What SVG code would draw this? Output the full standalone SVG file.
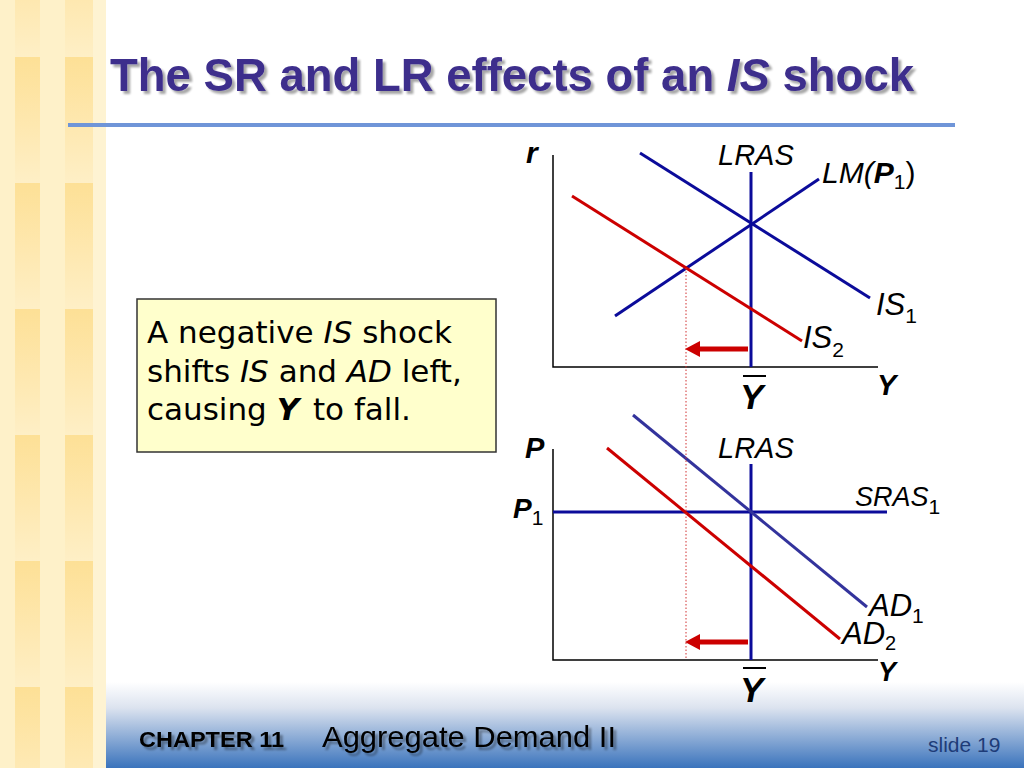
<svg xmlns="http://www.w3.org/2000/svg" width="1024" height="768" viewBox="0 0 1024 768">
  <defs>
    <linearGradient id="footGrad" x1="0" y1="0" x2="0" y2="1">
      <stop offset="0" stop-color="#FFFFFF"/>
      <stop offset="0.3" stop-color="#DCE3EF"/>
      <stop offset="1" stop-color="#3A73BC"/>
    </linearGradient>
    <linearGradient id="stripeGrad" x1="0" y1="0" x2="0" y2="1">
      <stop offset="0" stop-color="#FDE096"/>
      <stop offset="0.55" stop-color="#FEE8B0"/>
      <stop offset="1" stop-color="#FEEFC6"/>
    </linearGradient>
    <pattern id="sidePat" patternUnits="userSpaceOnUse" x="0" y="57" width="106" height="126">
      <rect x="0" y="0" width="106" height="126" fill="#FEF1C9"/>
      <rect x="15" y="0" width="25" height="126" fill="url(#stripeGrad)"/>
      <rect x="65" y="0" width="28" height="126" fill="url(#stripeGrad)"/>
      <rect x="93" y="0" width="13" height="126" fill="#FEF3D2"/>
    </pattern>
    <marker id="redHead" markerUnits="userSpaceOnUse" viewBox="0 -8 15 16" refX="0" refY="0" markerWidth="15" markerHeight="16" orient="auto">
      <path d="M0,-8 L15,0 L0,8 Z" fill="#CC0000"/>
    </marker>
    <filter id="shadow" x="-5%" y="-20%" width="110%" height="140%">
      <feGaussianBlur in="SourceAlpha" stdDeviation="1"/>
      <feOffset dx="3" dy="3" result="o"/>
      <feComponentTransfer><feFuncA type="linear" slope="0.35"/></feComponentTransfer>
      <feMerge><feMergeNode/><feMergeNode in="SourceGraphic"/></feMerge>
    </filter>
  </defs>
  <style>
    .ax { stroke: #000; stroke-width: 1.5; fill: none; }
    .blue { stroke: #0B0B9A; stroke-width: 3; fill: none; }
    .blue2 { stroke: #33339C; stroke-width: 3; fill: none; }
    .red { stroke: #CC0000; stroke-width: 3; fill: none; }
    .arrow { stroke: #CC0000; stroke-width: 5; fill: none; }
    .dot { stroke: #D03030; stroke-width: 1; stroke-dasharray: 1.5 2; fill: none; }
    .lbl { font-family: "Liberation Sans", Arial, sans-serif; font-style: italic; fill: #000; }
    .bi { font-family: "Liberation Sans", Arial, sans-serif; font-style: italic; font-weight: bold; fill: #000; }
    .sub { font-style: normal; font-weight: normal; }
    .box { font-family: "DejaVu Sans", Tahoma, sans-serif; font-size: 31px; fill: #000; }
  </style>

  <!-- background -->
  <rect x="0" y="0" width="1024" height="768" fill="#FFFFFF"/>
  <rect x="106" y="682" width="918" height="86" fill="url(#footGrad)"/>
  <g id="sidebar">
    <rect x="0" y="0" width="106" height="768" fill="url(#sidePat)"/>
  </g>

  <!-- title -->
  <g id="title">
    <text x="110" y="91" font-family="Liberation Sans, Arial, sans-serif" font-size="45.5" font-weight="bold" fill="#3D2E8C" filter="url(#shadow)">The SR and LR effects of an <tspan font-style="italic">IS</tspan> shock</text>
    <rect x="68" y="123" width="887" height="4" fill="#6F95D8"/>
  </g>

  <!-- text box -->
  <g id="note">
    <rect x="137" y="299" width="359" height="153" fill="#FFFFCC" stroke="#333333" stroke-width="1.5"/>
    <text class="box" x="147" y="343">A negative <tspan font-style="italic">IS</tspan> shock</text>
    <text class="box" x="147" y="382">shifts <tspan font-style="italic">IS</tspan> and <tspan font-style="italic">AD</tspan> left,</text>
    <text class="box" x="147" y="420">causing <tspan font-style="italic" font-weight="bold">Y</tspan><tspan dx="4"> to fall.</tspan></text>
  </g>

  <!-- upper graph: IS-LM -->
  <g id="islm-graph">
    <g id="islm-axes">
      <polyline class="ax" points="553,155 553,367 878,367"/>
      <text class="bi" x="526" y="163" font-size="30">r</text>
      <text class="bi" x="877" y="395" font-size="29">Y</text>
      <line x1="743" y1="376" x2="766" y2="376" stroke="#000" stroke-width="2"/>
      <text class="bi" x="740" y="409" font-size="35">Y</text>
    </g>
    <g id="lras-upper">
      <line class="blue" x1="751" y1="172" x2="751" y2="367"/>
      <text class="lbl" x="718" y="165" font-size="29">LRAS</text>
    </g>
    <g id="lm">
      <line class="blue" x1="615" y1="316" x2="819" y2="179"/>
      <text class="lbl" x="822" y="183" font-size="30">LM(<tspan font-weight="bold">P</tspan><tspan class="sub" font-size="21" dy="6">1</tspan><tspan class="sub" dy="-6">)</tspan></text>
    </g>
    <g id="is1">
      <line class="blue" x1="640" y1="153" x2="870" y2="298"/>
      <text class="lbl" x="876" y="315" font-size="31">IS<tspan class="sub" font-size="21" dy="8">1</tspan></text>
    </g>
    <g id="is2">
      <line class="red" x1="572" y1="196" x2="802" y2="341"/>
      <text class="lbl" x="803" y="348" font-size="31">IS<tspan class="sub" font-size="21" dy="9">2</tspan></text>
    </g>
  </g>

  <!-- lower graph: AD-AS -->
  <g id="adas-graph">
    <g id="adas-axes">
      <polyline class="ax" points="553,449 553,660 878,660"/>
      <text class="bi" x="525" y="458" font-size="29">P</text>
      <text class="bi" x="513" y="518" font-size="28">P<tspan class="sub" font-size="21" dy="7">1</tspan></text>
      <text class="bi" x="878" y="681" font-size="27">Y</text>
      <line x1="743" y1="668" x2="766" y2="668" stroke="#000" stroke-width="2"/>
      <text class="bi" x="740" y="702" font-size="35">Y</text>
    </g>
    <g id="lras-lower">
      <line class="blue" x1="751" y1="464" x2="751" y2="660"/>
      <text class="lbl" x="718" y="458" font-size="29">LRAS</text>
    </g>
    <g id="sras1">
      <line class="blue" x1="553" y1="512" x2="887" y2="512"/>
      <text class="lbl" x="855" y="506" font-size="27">SRAS<tspan class="sub" font-size="21" dy="8">1</tspan></text>
    </g>
    <g id="ad1">
      <line class="blue2" x1="633" y1="415" x2="867" y2="607"/>
      <text class="lbl" x="869" y="616" font-size="31">AD<tspan class="sub" font-size="21" dy="7">1</tspan></text>
    </g>
    <g id="ad2">
      <line class="red" x1="607" y1="448" x2="840" y2="639"/>
      <text class="lbl" x="842" y="644" font-size="31">AD<tspan class="sub" font-size="20" dy="6">2</tspan></text>
    </g>
  </g>

  <!-- connectors: shift arrows and guide line -->
  <g id="connectors">
    <line class="dot" x1="686" y1="268" x2="686" y2="660"/>
    <line class="arrow" x1="748" y1="349" x2="700" y2="349" marker-end="url(#redHead)"/>
    <line class="arrow" x1="748" y1="642" x2="700" y2="642" marker-end="url(#redHead)"/>
  </g>

  <!-- footer -->
  <g id="footer">
    <text x="139" y="747" font-family="Liberation Sans, Arial, sans-serif" font-size="22" font-weight="bold" fill="#000" filter="url(#shadow)" textLength="145" lengthAdjust="spacingAndGlyphs">CHAPTER 11</text>
    <text x="322" y="747" font-family="Liberation Sans, Arial, sans-serif" font-size="30" fill="#000" filter="url(#shadow)" textLength="294" lengthAdjust="spacingAndGlyphs">Aggregate Demand II</text>
    <text x="928" y="752" font-family="Liberation Sans, Arial, sans-serif" font-size="21" fill="#1E3C78">slide 19</text>
  </g>
</svg>
